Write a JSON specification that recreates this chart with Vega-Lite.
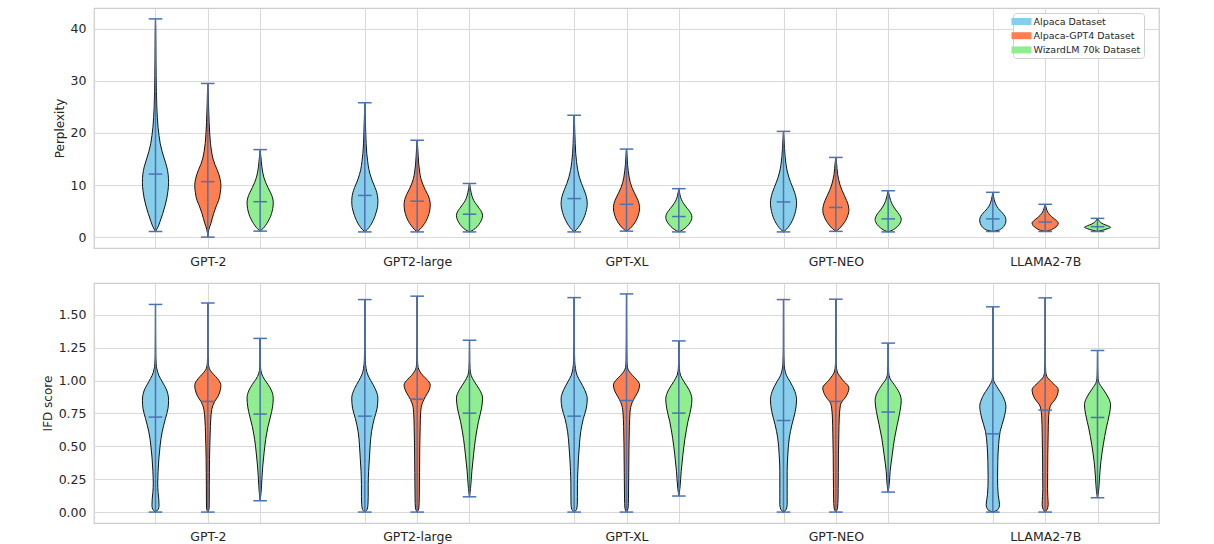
{
"$schema": "https://vega.github.io/schema/vega-lite/v6.json",
"background": "white",
"padding": {"left": 40, "top": 7, "right": 10, "bottom": 5},
"bounds": "flush",
"spacing": 35,
"config": {
  "font": "DejaVu Sans",
  "view": {"stroke": "#cccccc", "strokeWidth": 1.25},
  "axis": {"labelFont": "DejaVu Sans", "labelFontSize": 12.5, "labelColor": "#262626", "titleFont": "DejaVu Sans", "titleFontSize": 12, "titleFontWeight": "normal", "titleColor": "#262626", "gridColor": "#d9d9d9", "gridWidth": 1.1, "ticks": false, "tickSize": 0, "domain": false},
  "legend": {"labelFont": "DejaVu Sans", "labelColor": "#262626"}
},
"resolve": {"scale": {"color": "independent"}, "legend": {"color": "independent"}},
"datasets": {
"ppl": [
{"m":"GPT-2","ds":"A","v":1.08,"d":0},{"m":"GPT-2","ds":"A","v":2,"d":0.2},{"m":"GPT-2","ds":"A","v":3,"d":0.35},{"m":"GPT-2","ds":"A","v":4.5,"d":0.55},{"m":"GPT-2","ds":"A","v":6,"d":0.73},{"m":"GPT-2","ds":"A","v":7.5,"d":0.87},{"m":"GPT-2","ds":"A","v":9,"d":0.96},{"m":"GPT-2","ds":"A","v":10.5,"d":1.0},{"m":"GPT-2","ds":"A","v":12,"d":0.97},{"m":"GPT-2","ds":"A","v":13.5,"d":0.86},{"m":"GPT-2","ds":"A","v":15,"d":0.68},{"m":"GPT-2","ds":"A","v":16.5,"d":0.5},{"m":"GPT-2","ds":"A","v":18,"d":0.36},{"m":"GPT-2","ds":"A","v":19.5,"d":0.27},{"m":"GPT-2","ds":"A","v":21,"d":0.2},{"m":"GPT-2","ds":"A","v":23,"d":0.14},{"m":"GPT-2","ds":"A","v":25,"d":0.1},{"m":"GPT-2","ds":"A","v":28,"d":0.07},{"m":"GPT-2","ds":"A","v":31,"d":0.05},{"m":"GPT-2","ds":"A","v":34,"d":0.035},{"m":"GPT-2","ds":"A","v":37,"d":0.025},{"m":"GPT-2","ds":"A","v":40,"d":0.015},{"m":"GPT-2","ds":"A","v":41.9,"d":0},
{"m":"GPT-2","ds":"G","v":0,"d":0},{"m":"GPT-2","ds":"G","v":1.5,"d":0.08},{"m":"GPT-2","ds":"G","v":2.6,"d":0.23},{"m":"GPT-2","ds":"G","v":4.5,"d":0.44},{"m":"GPT-2","ds":"G","v":6,"d":0.65},{"m":"GPT-2","ds":"G","v":7,"d":0.82},{"m":"GPT-2","ds":"G","v":8.5,"d":0.95},{"m":"GPT-2","ds":"G","v":9.9,"d":1.0},{"m":"GPT-2","ds":"G","v":11,"d":0.95},{"m":"GPT-2","ds":"G","v":12,"d":0.85},{"m":"GPT-2","ds":"G","v":13,"d":0.7},{"m":"GPT-2","ds":"G","v":14,"d":0.53},{"m":"GPT-2","ds":"G","v":15,"d":0.4},{"m":"GPT-2","ds":"G","v":16.5,"d":0.28},{"m":"GPT-2","ds":"G","v":18,"d":0.2},{"m":"GPT-2","ds":"G","v":20,"d":0.14},{"m":"GPT-2","ds":"G","v":22,"d":0.1},{"m":"GPT-2","ds":"G","v":24,"d":0.07},{"m":"GPT-2","ds":"G","v":26,"d":0.045},{"m":"GPT-2","ds":"G","v":28,"d":0.025},{"m":"GPT-2","ds":"G","v":29.5,"d":0},
{"m":"GPT-2","ds":"W","v":1.15,"d":0},{"m":"GPT-2","ds":"W","v":1.6,"d":0.2},{"m":"GPT-2","ds":"W","v":2.2,"d":0.4},{"m":"GPT-2","ds":"W","v":3,"d":0.6},{"m":"GPT-2","ds":"W","v":4,"d":0.8},{"m":"GPT-2","ds":"W","v":5,"d":0.92},{"m":"GPT-2","ds":"W","v":6,"d":0.99},{"m":"GPT-2","ds":"W","v":6.7,"d":1.0},{"m":"GPT-2","ds":"W","v":7.5,"d":0.95},{"m":"GPT-2","ds":"W","v":8.5,"d":0.8},{"m":"GPT-2","ds":"W","v":9.5,"d":0.6},{"m":"GPT-2","ds":"W","v":10.5,"d":0.42},{"m":"GPT-2","ds":"W","v":11.5,"d":0.28},{"m":"GPT-2","ds":"W","v":12.5,"d":0.19},{"m":"GPT-2","ds":"W","v":13.5,"d":0.13},{"m":"GPT-2","ds":"W","v":14.5,"d":0.09},{"m":"GPT-2","ds":"W","v":15.5,"d":0.05},{"m":"GPT-2","ds":"W","v":16.8,"d":0},
{"m":"GPT2-large","ds":"A","v":1.0,"d":0},{"m":"GPT2-large","ds":"A","v":1.5,"d":0.2},{"m":"GPT2-large","ds":"A","v":2.2,"d":0.42},{"m":"GPT2-large","ds":"A","v":3.2,"d":0.64},{"m":"GPT2-large","ds":"A","v":4.2,"d":0.8},{"m":"GPT2-large","ds":"A","v":5.2,"d":0.92},{"m":"GPT2-large","ds":"A","v":6.2,"d":0.99},{"m":"GPT2-large","ds":"A","v":7.0,"d":1.0},{"m":"GPT2-large","ds":"A","v":8,"d":0.96},{"m":"GPT2-large","ds":"A","v":9,"d":0.86},{"m":"GPT2-large","ds":"A","v":10,"d":0.7},{"m":"GPT2-large","ds":"A","v":11,"d":0.54},{"m":"GPT2-large","ds":"A","v":12,"d":0.41},{"m":"GPT2-large","ds":"A","v":13,"d":0.31},{"m":"GPT2-large","ds":"A","v":14.5,"d":0.22},{"m":"GPT2-large","ds":"A","v":16,"d":0.15},{"m":"GPT2-large","ds":"A","v":18,"d":0.1},{"m":"GPT2-large","ds":"A","v":20,"d":0.07},{"m":"GPT2-large","ds":"A","v":22,"d":0.045},{"m":"GPT2-large","ds":"A","v":24,"d":0.025},{"m":"GPT2-large","ds":"A","v":25.8,"d":0},
{"m":"GPT2-large","ds":"G","v":1.0,"d":0},{"m":"GPT2-large","ds":"G","v":1.5,"d":0.22},{"m":"GPT2-large","ds":"G","v":2.2,"d":0.45},{"m":"GPT2-large","ds":"G","v":3,"d":0.66},{"m":"GPT2-large","ds":"G","v":4,"d":0.84},{"m":"GPT2-large","ds":"G","v":5,"d":0.95},{"m":"GPT2-large","ds":"G","v":6.2,"d":1.0},{"m":"GPT2-large","ds":"G","v":7.2,"d":0.95},{"m":"GPT2-large","ds":"G","v":8.2,"d":0.8},{"m":"GPT2-large","ds":"G","v":9.2,"d":0.6},{"m":"GPT2-large","ds":"G","v":10.2,"d":0.42},{"m":"GPT2-large","ds":"G","v":11.2,"d":0.29},{"m":"GPT2-large","ds":"G","v":12.5,"d":0.19},{"m":"GPT2-large","ds":"G","v":14,"d":0.12},{"m":"GPT2-large","ds":"G","v":15.5,"d":0.08},{"m":"GPT2-large","ds":"G","v":17,"d":0.045},{"m":"GPT2-large","ds":"G","v":18.6,"d":0},
{"m":"GPT2-large","ds":"W","v":1.0,"d":0},{"m":"GPT2-large","ds":"W","v":1.4,"d":0.3},{"m":"GPT2-large","ds":"W","v":2,"d":0.58},{"m":"GPT2-large","ds":"W","v":2.8,"d":0.82},{"m":"GPT2-large","ds":"W","v":3.5,"d":0.95},{"m":"GPT2-large","ds":"W","v":4.1,"d":1.0},{"m":"GPT2-large","ds":"W","v":4.8,"d":0.93},{"m":"GPT2-large","ds":"W","v":5.5,"d":0.75},{"m":"GPT2-large","ds":"W","v":6.3,"d":0.52},{"m":"GPT2-large","ds":"W","v":7,"d":0.33},{"m":"GPT2-large","ds":"W","v":7.8,"d":0.2},{"m":"GPT2-large","ds":"W","v":8.6,"d":0.12},{"m":"GPT2-large","ds":"W","v":9.4,"d":0.06},{"m":"GPT2-large","ds":"W","v":10.3,"d":0},
{"m":"GPT-XL","ds":"A","v":1.0,"d":0},{"m":"GPT-XL","ds":"A","v":1.5,"d":0.2},{"m":"GPT-XL","ds":"A","v":2.2,"d":0.42},{"m":"GPT-XL","ds":"A","v":3.2,"d":0.65},{"m":"GPT-XL","ds":"A","v":4.2,"d":0.82},{"m":"GPT-XL","ds":"A","v":5.3,"d":0.94},{"m":"GPT-XL","ds":"A","v":6.3,"d":1.0},{"m":"GPT-XL","ds":"A","v":7.3,"d":0.97},{"m":"GPT-XL","ds":"A","v":8.3,"d":0.87},{"m":"GPT-XL","ds":"A","v":9.3,"d":0.72},{"m":"GPT-XL","ds":"A","v":10.3,"d":0.56},{"m":"GPT-XL","ds":"A","v":11.5,"d":0.4},{"m":"GPT-XL","ds":"A","v":12.8,"d":0.28},{"m":"GPT-XL","ds":"A","v":14.5,"d":0.18},{"m":"GPT-XL","ds":"A","v":16,"d":0.12},{"m":"GPT-XL","ds":"A","v":18,"d":0.08},{"m":"GPT-XL","ds":"A","v":20,"d":0.05},{"m":"GPT-XL","ds":"A","v":22,"d":0.025},{"m":"GPT-XL","ds":"A","v":23.4,"d":0},
{"m":"GPT-XL","ds":"G","v":1.15,"d":0},{"m":"GPT-XL","ds":"G","v":1.6,"d":0.25},{"m":"GPT-XL","ds":"G","v":2.3,"d":0.5},{"m":"GPT-XL","ds":"G","v":3.2,"d":0.74},{"m":"GPT-XL","ds":"G","v":4.2,"d":0.9},{"m":"GPT-XL","ds":"G","v":5.2,"d":0.99},{"m":"GPT-XL","ds":"G","v":5.7,"d":1.0},{"m":"GPT-XL","ds":"G","v":6.5,"d":0.95},{"m":"GPT-XL","ds":"G","v":7.5,"d":0.8},{"m":"GPT-XL","ds":"G","v":8.5,"d":0.6},{"m":"GPT-XL","ds":"G","v":9.5,"d":0.42},{"m":"GPT-XL","ds":"G","v":10.5,"d":0.29},{"m":"GPT-XL","ds":"G","v":11.5,"d":0.2},{"m":"GPT-XL","ds":"G","v":12.8,"d":0.13},{"m":"GPT-XL","ds":"G","v":14,"d":0.08},{"m":"GPT-XL","ds":"G","v":15.5,"d":0.045},{"m":"GPT-XL","ds":"G","v":16.9,"d":0},
{"m":"GPT-XL","ds":"W","v":1.0,"d":0},{"m":"GPT-XL","ds":"W","v":1.4,"d":0.3},{"m":"GPT-XL","ds":"W","v":2,"d":0.6},{"m":"GPT-XL","ds":"W","v":2.7,"d":0.83},{"m":"GPT-XL","ds":"W","v":3.3,"d":0.96},{"m":"GPT-XL","ds":"W","v":3.8,"d":1.0},{"m":"GPT-XL","ds":"W","v":4.4,"d":0.95},{"m":"GPT-XL","ds":"W","v":5.1,"d":0.78},{"m":"GPT-XL","ds":"W","v":5.8,"d":0.55},{"m":"GPT-XL","ds":"W","v":6.5,"d":0.35},{"m":"GPT-XL","ds":"W","v":7.2,"d":0.2},{"m":"GPT-XL","ds":"W","v":8,"d":0.1},{"m":"GPT-XL","ds":"W","v":8.6,"d":0.05},{"m":"GPT-XL","ds":"W","v":9.3,"d":0},
{"m":"GPT-NEO","ds":"A","v":1.0,"d":0},{"m":"GPT-NEO","ds":"A","v":1.5,"d":0.22},{"m":"GPT-NEO","ds":"A","v":2.2,"d":0.45},{"m":"GPT-NEO","ds":"A","v":3.2,"d":0.68},{"m":"GPT-NEO","ds":"A","v":4.3,"d":0.85},{"m":"GPT-NEO","ds":"A","v":5.5,"d":0.96},{"m":"GPT-NEO","ds":"A","v":6.5,"d":1.0},{"m":"GPT-NEO","ds":"A","v":7.5,"d":0.96},{"m":"GPT-NEO","ds":"A","v":8.5,"d":0.86},{"m":"GPT-NEO","ds":"A","v":9.5,"d":0.71},{"m":"GPT-NEO","ds":"A","v":10.5,"d":0.55},{"m":"GPT-NEO","ds":"A","v":11.5,"d":0.41},{"m":"GPT-NEO","ds":"A","v":12.5,"d":0.3},{"m":"GPT-NEO","ds":"A","v":14,"d":0.19},{"m":"GPT-NEO","ds":"A","v":15.5,"d":0.12},{"m":"GPT-NEO","ds":"A","v":17,"d":0.08},{"m":"GPT-NEO","ds":"A","v":18.7,"d":0.04},{"m":"GPT-NEO","ds":"A","v":20.3,"d":0},
{"m":"GPT-NEO","ds":"G","v":1.1,"d":0},{"m":"GPT-NEO","ds":"G","v":1.6,"d":0.25},{"m":"GPT-NEO","ds":"G","v":2.3,"d":0.5},{"m":"GPT-NEO","ds":"G","v":3.2,"d":0.75},{"m":"GPT-NEO","ds":"G","v":4.2,"d":0.92},{"m":"GPT-NEO","ds":"G","v":5.1,"d":1.0},{"m":"GPT-NEO","ds":"G","v":6,"d":0.96},{"m":"GPT-NEO","ds":"G","v":7,"d":0.83},{"m":"GPT-NEO","ds":"G","v":8,"d":0.65},{"m":"GPT-NEO","ds":"G","v":9,"d":0.47},{"m":"GPT-NEO","ds":"G","v":10,"d":0.32},{"m":"GPT-NEO","ds":"G","v":11,"d":0.22},{"m":"GPT-NEO","ds":"G","v":12,"d":0.14},{"m":"GPT-NEO","ds":"G","v":13.2,"d":0.09},{"m":"GPT-NEO","ds":"G","v":14.3,"d":0.05},{"m":"GPT-NEO","ds":"G","v":15.3,"d":0},
{"m":"GPT-NEO","ds":"W","v":1.0,"d":0},{"m":"GPT-NEO","ds":"W","v":1.3,"d":0.3},{"m":"GPT-NEO","ds":"W","v":1.8,"d":0.6},{"m":"GPT-NEO","ds":"W","v":2.4,"d":0.84},{"m":"GPT-NEO","ds":"W","v":3,"d":0.97},{"m":"GPT-NEO","ds":"W","v":3.4,"d":1.0},{"m":"GPT-NEO","ds":"W","v":4,"d":0.93},{"m":"GPT-NEO","ds":"W","v":4.7,"d":0.75},{"m":"GPT-NEO","ds":"W","v":5.4,"d":0.53},{"m":"GPT-NEO","ds":"W","v":6.2,"d":0.33},{"m":"GPT-NEO","ds":"W","v":7,"d":0.19},{"m":"GPT-NEO","ds":"W","v":7.8,"d":0.1},{"m":"GPT-NEO","ds":"W","v":8.9,"d":0},
{"m":"LLAMA2-7B","ds":"A","v":1.08,"d":0},{"m":"LLAMA2-7B","ds":"A","v":1.3,"d":0.4},{"m":"LLAMA2-7B","ds":"A","v":1.7,"d":0.7},{"m":"LLAMA2-7B","ds":"A","v":2.3,"d":0.9},{"m":"LLAMA2-7B","ds":"A","v":2.9,"d":0.99},{"m":"LLAMA2-7B","ds":"A","v":3.4,"d":1.0},{"m":"LLAMA2-7B","ds":"A","v":4,"d":0.92},{"m":"LLAMA2-7B","ds":"A","v":4.6,"d":0.75},{"m":"LLAMA2-7B","ds":"A","v":5.2,"d":0.52},{"m":"LLAMA2-7B","ds":"A","v":5.8,"d":0.33},{"m":"LLAMA2-7B","ds":"A","v":6.5,"d":0.19},{"m":"LLAMA2-7B","ds":"A","v":7.2,"d":0.1},{"m":"LLAMA2-7B","ds":"A","v":7.9,"d":0.05},{"m":"LLAMA2-7B","ds":"A","v":8.6,"d":0},
{"m":"LLAMA2-7B","ds":"G","v":1.08,"d":0},{"m":"LLAMA2-7B","ds":"G","v":1.3,"d":0.35},{"m":"LLAMA2-7B","ds":"G","v":1.7,"d":0.68},{"m":"LLAMA2-7B","ds":"G","v":2.2,"d":0.92},{"m":"LLAMA2-7B","ds":"G","v":2.7,"d":1.0},{"m":"LLAMA2-7B","ds":"G","v":3.2,"d":0.85},{"m":"LLAMA2-7B","ds":"G","v":3.7,"d":0.6},{"m":"LLAMA2-7B","ds":"G","v":4.2,"d":0.38},{"m":"LLAMA2-7B","ds":"G","v":4.8,"d":0.2},{"m":"LLAMA2-7B","ds":"G","v":5.4,"d":0.1},{"m":"LLAMA2-7B","ds":"G","v":5.9,"d":0.05},{"m":"LLAMA2-7B","ds":"G","v":6.3,"d":0},
{"m":"LLAMA2-7B","ds":"W","v":1.08,"d":0},{"m":"LLAMA2-7B","ds":"W","v":1.3,"d":0.35},{"m":"LLAMA2-7B","ds":"W","v":1.6,"d":0.75},{"m":"LLAMA2-7B","ds":"W","v":1.9,"d":1.0},{"m":"LLAMA2-7B","ds":"W","v":2.2,"d":0.75},{"m":"LLAMA2-7B","ds":"W","v":2.5,"d":0.45},{"m":"LLAMA2-7B","ds":"W","v":2.8,"d":0.25},{"m":"LLAMA2-7B","ds":"W","v":3.2,"d":0.1},{"m":"LLAMA2-7B","ds":"W","v":3.6,"d":0}
],
"ppls": [
{"m":"GPT-2","ds":"A","min":1.08,"mean":12.1,"max":41.9},{"m":"GPT-2","ds":"G","min":0.0,"mean":10.65,"max":29.5},{"m":"GPT-2","ds":"W","min":1.15,"mean":6.8,"max":16.8},
{"m":"GPT2-large","ds":"A","min":1.0,"mean":8.0,"max":25.8},{"m":"GPT2-large","ds":"G","min":1.0,"mean":6.9,"max":18.6},{"m":"GPT2-large","ds":"W","min":1.0,"mean":4.4,"max":10.3},
{"m":"GPT-XL","ds":"A","min":1.0,"mean":7.4,"max":23.4},{"m":"GPT-XL","ds":"G","min":1.15,"mean":6.3,"max":16.9},{"m":"GPT-XL","ds":"W","min":1.0,"mean":3.95,"max":9.3},
{"m":"GPT-NEO","ds":"A","min":1.0,"mean":6.75,"max":20.3},{"m":"GPT-NEO","ds":"G","min":1.1,"mean":5.7,"max":15.3},{"m":"GPT-NEO","ds":"W","min":1.0,"mean":3.5,"max":8.9},
{"m":"LLAMA2-7B","ds":"A","min":1.08,"mean":3.5,"max":8.6},{"m":"LLAMA2-7B","ds":"G","min":1.08,"mean":2.9,"max":6.3},{"m":"LLAMA2-7B","ds":"W","min":1.08,"mean":2.0,"max":3.6}
],
"ifd": [
{"m":"GPT-2","ds":"A","v":0,"d":0},{"m":"GPT-2","ds":"A","v":0.02,"d":0.2},{"m":"GPT-2","ds":"A","v":0.05,"d":0.27},{"m":"GPT-2","ds":"A","v":0.1,"d":0.25},{"m":"GPT-2","ds":"A","v":0.15,"d":0.2},{"m":"GPT-2","ds":"A","v":0.22,"d":0.17},{"m":"GPT-2","ds":"A","v":0.31,"d":0.2},{"m":"GPT-2","ds":"A","v":0.41,"d":0.26},{"m":"GPT-2","ds":"A","v":0.51,"d":0.36},{"m":"GPT-2","ds":"A","v":0.61,"d":0.51},{"m":"GPT-2","ds":"A","v":0.71,"d":0.76},{"m":"GPT-2","ds":"A","v":0.79,"d":0.96},{"m":"GPT-2","ds":"A","v":0.85,"d":1.0},{"m":"GPT-2","ds":"A","v":0.92,"d":0.88},{"m":"GPT-2","ds":"A","v":0.99,"d":0.52},{"m":"GPT-2","ds":"A","v":1.04,"d":0.25},{"m":"GPT-2","ds":"A","v":1.08,"d":0.12},{"m":"GPT-2","ds":"A","v":1.13,"d":0.05},{"m":"GPT-2","ds":"A","v":1.2,"d":0.02},{"m":"GPT-2","ds":"A","v":1.35,"d":0.008},{"m":"GPT-2","ds":"A","v":1.578,"d":0},
{"m":"GPT-2","ds":"G","v":0,"d":0},{"m":"GPT-2","ds":"G","v":0.03,"d":0.1},{"m":"GPT-2","ds":"G","v":0.1,"d":0.11},{"m":"GPT-2","ds":"G","v":0.2,"d":0.11},{"m":"GPT-2","ds":"G","v":0.3,"d":0.12},{"m":"GPT-2","ds":"G","v":0.4,"d":0.13},{"m":"GPT-2","ds":"G","v":0.5,"d":0.15},{"m":"GPT-2","ds":"G","v":0.6,"d":0.18},{"m":"GPT-2","ds":"G","v":0.7,"d":0.22},{"m":"GPT-2","ds":"G","v":0.78,"d":0.3},{"m":"GPT-2","ds":"G","v":0.84,"d":0.52},{"m":"GPT-2","ds":"G","v":0.88,"d":0.78},{"m":"GPT-2","ds":"G","v":0.93,"d":0.96},{"m":"GPT-2","ds":"G","v":0.96,"d":1.0},{"m":"GPT-2","ds":"G","v":1.0,"d":0.85},{"m":"GPT-2","ds":"G","v":1.03,"d":0.6},{"m":"GPT-2","ds":"G","v":1.06,"d":0.32},{"m":"GPT-2","ds":"G","v":1.09,"d":0.12},{"m":"GPT-2","ds":"G","v":1.13,"d":0.04},{"m":"GPT-2","ds":"G","v":1.25,"d":0.01},{"m":"GPT-2","ds":"G","v":1.589,"d":0},
{"m":"GPT-2","ds":"W","v":0.086,"d":0},{"m":"GPT-2","ds":"W","v":0.15,"d":0.07},{"m":"GPT-2","ds":"W","v":0.25,"d":0.13},{"m":"GPT-2","ds":"W","v":0.35,"d":0.2},{"m":"GPT-2","ds":"W","v":0.45,"d":0.3},{"m":"GPT-2","ds":"W","v":0.55,"d":0.42},{"m":"GPT-2","ds":"W","v":0.65,"d":0.6},{"m":"GPT-2","ds":"W","v":0.73,"d":0.8},{"m":"GPT-2","ds":"W","v":0.8,"d":0.95},{"m":"GPT-2","ds":"W","v":0.866,"d":1.0},{"m":"GPT-2","ds":"W","v":0.92,"d":0.88},{"m":"GPT-2","ds":"W","v":0.97,"d":0.6},{"m":"GPT-2","ds":"W","v":1.01,"d":0.32},{"m":"GPT-2","ds":"W","v":1.05,"d":0.12},{"m":"GPT-2","ds":"W","v":1.1,"d":0.03},{"m":"GPT-2","ds":"W","v":1.2,"d":0.01},{"m":"GPT-2","ds":"W","v":1.32,"d":0},
{"m":"GPT2-large","ds":"A","v":0,"d":0},{"m":"GPT2-large","ds":"A","v":0.02,"d":0.18},{"m":"GPT2-large","ds":"A","v":0.06,"d":0.24},{"m":"GPT2-large","ds":"A","v":0.12,"d":0.26},{"m":"GPT2-large","ds":"A","v":0.21,"d":0.26},{"m":"GPT2-large","ds":"A","v":0.31,"d":0.29},{"m":"GPT2-large","ds":"A","v":0.41,"d":0.35},{"m":"GPT2-large","ds":"A","v":0.51,"d":0.41},{"m":"GPT2-large","ds":"A","v":0.61,"d":0.51},{"m":"GPT2-large","ds":"A","v":0.71,"d":0.72},{"m":"GPT2-large","ds":"A","v":0.79,"d":0.94},{"m":"GPT2-large","ds":"A","v":0.866,"d":1.0},{"m":"GPT2-large","ds":"A","v":0.94,"d":0.78},{"m":"GPT2-large","ds":"A","v":1.0,"d":0.45},{"m":"GPT2-large","ds":"A","v":1.05,"d":0.2},{"m":"GPT2-large","ds":"A","v":1.09,"d":0.1},{"m":"GPT2-large","ds":"A","v":1.15,"d":0.04},{"m":"GPT2-large","ds":"A","v":1.3,"d":0.01},{"m":"GPT2-large","ds":"A","v":1.615,"d":0},
{"m":"GPT2-large","ds":"G","v":0,"d":0},{"m":"GPT2-large","ds":"G","v":0.03,"d":0.13},{"m":"GPT2-large","ds":"G","v":0.1,"d":0.16},{"m":"GPT2-large","ds":"G","v":0.3,"d":0.18},{"m":"GPT2-large","ds":"G","v":0.5,"d":0.2},{"m":"GPT2-large","ds":"G","v":0.65,"d":0.23},{"m":"GPT2-large","ds":"G","v":0.76,"d":0.27},{"m":"GPT2-large","ds":"G","v":0.83,"d":0.4},{"m":"GPT2-large","ds":"G","v":0.88,"d":0.65},{"m":"GPT2-large","ds":"G","v":0.92,"d":0.88},{"m":"GPT2-large","ds":"G","v":0.967,"d":1.0},{"m":"GPT2-large","ds":"G","v":1.01,"d":0.72},{"m":"GPT2-large","ds":"G","v":1.04,"d":0.42},{"m":"GPT2-large","ds":"G","v":1.07,"d":0.2},{"m":"GPT2-large","ds":"G","v":1.1,"d":0.07},{"m":"GPT2-large","ds":"G","v":1.15,"d":0.03},{"m":"GPT2-large","ds":"G","v":1.3,"d":0.01},{"m":"GPT2-large","ds":"G","v":1.641,"d":0},
{"m":"GPT2-large","ds":"W","v":0.116,"d":0},{"m":"GPT2-large","ds":"W","v":0.18,"d":0.08},{"m":"GPT2-large","ds":"W","v":0.31,"d":0.18},{"m":"GPT2-large","ds":"W","v":0.435,"d":0.31},{"m":"GPT2-large","ds":"W","v":0.56,"d":0.46},{"m":"GPT2-large","ds":"W","v":0.69,"d":0.69},{"m":"GPT2-large","ds":"W","v":0.79,"d":0.92},{"m":"GPT2-large","ds":"W","v":0.866,"d":1.0},{"m":"GPT2-large","ds":"W","v":0.93,"d":0.77},{"m":"GPT2-large","ds":"W","v":0.99,"d":0.38},{"m":"GPT2-large","ds":"W","v":1.04,"d":0.12},{"m":"GPT2-large","ds":"W","v":1.09,"d":0.04},{"m":"GPT2-large","ds":"W","v":1.15,"d":0.015},{"m":"GPT2-large","ds":"W","v":1.306,"d":0},
{"m":"GPT-XL","ds":"A","v":0,"d":0},{"m":"GPT-XL","ds":"A","v":0.02,"d":0.18},{"m":"GPT-XL","ds":"A","v":0.06,"d":0.24},{"m":"GPT-XL","ds":"A","v":0.12,"d":0.25},{"m":"GPT-XL","ds":"A","v":0.21,"d":0.25},{"m":"GPT-XL","ds":"A","v":0.31,"d":0.28},{"m":"GPT-XL","ds":"A","v":0.41,"d":0.33},{"m":"GPT-XL","ds":"A","v":0.51,"d":0.4},{"m":"GPT-XL","ds":"A","v":0.61,"d":0.5},{"m":"GPT-XL","ds":"A","v":0.71,"d":0.7},{"m":"GPT-XL","ds":"A","v":0.79,"d":0.93},{"m":"GPT-XL","ds":"A","v":0.86,"d":1.0},{"m":"GPT-XL","ds":"A","v":0.93,"d":0.8},{"m":"GPT-XL","ds":"A","v":0.99,"d":0.48},{"m":"GPT-XL","ds":"A","v":1.04,"d":0.22},{"m":"GPT-XL","ds":"A","v":1.09,"d":0.1},{"m":"GPT-XL","ds":"A","v":1.15,"d":0.04},{"m":"GPT-XL","ds":"A","v":1.3,"d":0.01},{"m":"GPT-XL","ds":"A","v":1.63,"d":0},
{"m":"GPT-XL","ds":"G","v":0,"d":0},{"m":"GPT-XL","ds":"G","v":0.03,"d":0.12},{"m":"GPT-XL","ds":"G","v":0.1,"d":0.15},{"m":"GPT-XL","ds":"G","v":0.3,"d":0.17},{"m":"GPT-XL","ds":"G","v":0.5,"d":0.19},{"m":"GPT-XL","ds":"G","v":0.65,"d":0.22},{"m":"GPT-XL","ds":"G","v":0.76,"d":0.27},{"m":"GPT-XL","ds":"G","v":0.83,"d":0.42},{"m":"GPT-XL","ds":"G","v":0.88,"d":0.68},{"m":"GPT-XL","ds":"G","v":0.92,"d":0.9},{"m":"GPT-XL","ds":"G","v":0.967,"d":1.0},{"m":"GPT-XL","ds":"G","v":1.01,"d":0.74},{"m":"GPT-XL","ds":"G","v":1.04,"d":0.44},{"m":"GPT-XL","ds":"G","v":1.07,"d":0.2},{"m":"GPT-XL","ds":"G","v":1.1,"d":0.07},{"m":"GPT-XL","ds":"G","v":1.15,"d":0.03},{"m":"GPT-XL","ds":"G","v":1.3,"d":0.01},{"m":"GPT-XL","ds":"G","v":1.658,"d":0},
{"m":"GPT-XL","ds":"W","v":0.122,"d":0},{"m":"GPT-XL","ds":"W","v":0.18,"d":0.08},{"m":"GPT-XL","ds":"W","v":0.31,"d":0.18},{"m":"GPT-XL","ds":"W","v":0.435,"d":0.31},{"m":"GPT-XL","ds":"W","v":0.56,"d":0.47},{"m":"GPT-XL","ds":"W","v":0.69,"d":0.7},{"m":"GPT-XL","ds":"W","v":0.79,"d":0.93},{"m":"GPT-XL","ds":"W","v":0.858,"d":1.0},{"m":"GPT-XL","ds":"W","v":0.93,"d":0.78},{"m":"GPT-XL","ds":"W","v":0.99,"d":0.4},{"m":"GPT-XL","ds":"W","v":1.04,"d":0.13},{"m":"GPT-XL","ds":"W","v":1.09,"d":0.04},{"m":"GPT-XL","ds":"W","v":1.15,"d":0.015},{"m":"GPT-XL","ds":"W","v":1.301,"d":0},
{"m":"GPT-NEO","ds":"A","v":0,"d":0},{"m":"GPT-NEO","ds":"A","v":0.02,"d":0.2},{"m":"GPT-NEO","ds":"A","v":0.056,"d":0.28},{"m":"GPT-NEO","ds":"A","v":0.12,"d":0.28},{"m":"GPT-NEO","ds":"A","v":0.18,"d":0.28},{"m":"GPT-NEO","ds":"A","v":0.31,"d":0.28},{"m":"GPT-NEO","ds":"A","v":0.435,"d":0.33},{"m":"GPT-NEO","ds":"A","v":0.562,"d":0.44},{"m":"GPT-NEO","ds":"A","v":0.663,"d":0.64},{"m":"GPT-NEO","ds":"A","v":0.765,"d":0.9},{"m":"GPT-NEO","ds":"A","v":0.853,"d":1.0},{"m":"GPT-NEO","ds":"A","v":0.916,"d":0.87},{"m":"GPT-NEO","ds":"A","v":0.99,"d":0.51},{"m":"GPT-NEO","ds":"A","v":1.04,"d":0.22},{"m":"GPT-NEO","ds":"A","v":1.07,"d":0.13},{"m":"GPT-NEO","ds":"A","v":1.12,"d":0.05},{"m":"GPT-NEO","ds":"A","v":1.25,"d":0.01},{"m":"GPT-NEO","ds":"A","v":1.615,"d":0},
{"m":"GPT-NEO","ds":"G","v":0,"d":0},{"m":"GPT-NEO","ds":"G","v":0.03,"d":0.13},{"m":"GPT-NEO","ds":"G","v":0.1,"d":0.17},{"m":"GPT-NEO","ds":"G","v":0.18,"d":0.18},{"m":"GPT-NEO","ds":"G","v":0.3,"d":0.19},{"m":"GPT-NEO","ds":"G","v":0.435,"d":0.2},{"m":"GPT-NEO","ds":"G","v":0.6,"d":0.23},{"m":"GPT-NEO","ds":"G","v":0.714,"d":0.26},{"m":"GPT-NEO","ds":"G","v":0.79,"d":0.32},{"m":"GPT-NEO","ds":"G","v":0.828,"d":0.4},{"m":"GPT-NEO","ds":"G","v":0.878,"d":0.77},{"m":"GPT-NEO","ds":"G","v":0.942,"d":1.0},{"m":"GPT-NEO","ds":"G","v":1.005,"d":0.51},{"m":"GPT-NEO","ds":"G","v":1.04,"d":0.25},{"m":"GPT-NEO","ds":"G","v":1.056,"d":0.15},{"m":"GPT-NEO","ds":"G","v":1.09,"d":0.06},{"m":"GPT-NEO","ds":"G","v":1.15,"d":0.02},{"m":"GPT-NEO","ds":"G","v":1.3,"d":0.01},{"m":"GPT-NEO","ds":"G","v":1.618,"d":0},
{"m":"GPT-NEO","ds":"W","v":0.152,"d":0},{"m":"GPT-NEO","ds":"W","v":0.21,"d":0.08},{"m":"GPT-NEO","ds":"W","v":0.31,"d":0.15},{"m":"GPT-NEO","ds":"W","v":0.435,"d":0.31},{"m":"GPT-NEO","ds":"W","v":0.562,"d":0.49},{"m":"GPT-NEO","ds":"W","v":0.663,"d":0.69},{"m":"GPT-NEO","ds":"W","v":0.765,"d":0.9},{"m":"GPT-NEO","ds":"W","v":0.846,"d":1.0},{"m":"GPT-NEO","ds":"W","v":0.89,"d":0.92},{"m":"GPT-NEO","ds":"W","v":0.955,"d":0.56},{"m":"GPT-NEO","ds":"W","v":1.018,"d":0.13},{"m":"GPT-NEO","ds":"W","v":1.06,"d":0.04},{"m":"GPT-NEO","ds":"W","v":1.12,"d":0.015},{"m":"GPT-NEO","ds":"W","v":1.284,"d":0},
{"m":"LLAMA2-7B","ds":"A","v":0,"d":0},{"m":"LLAMA2-7B","ds":"A","v":0.018,"d":0.38},{"m":"LLAMA2-7B","ds":"A","v":0.056,"d":0.51},{"m":"LLAMA2-7B","ds":"A","v":0.132,"d":0.41},{"m":"LLAMA2-7B","ds":"A","v":0.258,"d":0.36},{"m":"LLAMA2-7B","ds":"A","v":0.385,"d":0.38},{"m":"LLAMA2-7B","ds":"A","v":0.511,"d":0.44},{"m":"LLAMA2-7B","ds":"A","v":0.613,"d":0.56},{"m":"LLAMA2-7B","ds":"A","v":0.714,"d":0.85},{"m":"LLAMA2-7B","ds":"A","v":0.803,"d":1.0},{"m":"LLAMA2-7B","ds":"A","v":0.879,"d":0.77},{"m":"LLAMA2-7B","ds":"A","v":0.955,"d":0.3},{"m":"LLAMA2-7B","ds":"A","v":1.005,"d":0.05},{"m":"LLAMA2-7B","ds":"A","v":1.05,"d":0.02},{"m":"LLAMA2-7B","ds":"A","v":1.2,"d":0.01},{"m":"LLAMA2-7B","ds":"A","v":1.56,"d":0},
{"m":"LLAMA2-7B","ds":"G","v":0,"d":0},{"m":"LLAMA2-7B","ds":"G","v":0.02,"d":0.15},{"m":"LLAMA2-7B","ds":"G","v":0.056,"d":0.23},{"m":"LLAMA2-7B","ds":"G","v":0.12,"d":0.2},{"m":"LLAMA2-7B","ds":"G","v":0.18,"d":0.18},{"m":"LLAMA2-7B","ds":"G","v":0.3,"d":0.19},{"m":"LLAMA2-7B","ds":"G","v":0.435,"d":0.2},{"m":"LLAMA2-7B","ds":"G","v":0.6,"d":0.23},{"m":"LLAMA2-7B","ds":"G","v":0.714,"d":0.26},{"m":"LLAMA2-7B","ds":"G","v":0.803,"d":0.38},{"m":"LLAMA2-7B","ds":"G","v":0.866,"d":0.82},{"m":"LLAMA2-7B","ds":"G","v":0.929,"d":1.0},{"m":"LLAMA2-7B","ds":"G","v":0.992,"d":0.46},{"m":"LLAMA2-7B","ds":"G","v":1.03,"d":0.13},{"m":"LLAMA2-7B","ds":"G","v":1.07,"d":0.04},{"m":"LLAMA2-7B","ds":"G","v":1.15,"d":0.015},{"m":"LLAMA2-7B","ds":"G","v":1.3,"d":0.005},{"m":"LLAMA2-7B","ds":"G","v":1.628,"d":0},
{"m":"LLAMA2-7B","ds":"W","v":0.109,"d":0},{"m":"LLAMA2-7B","ds":"W","v":0.157,"d":0.08},{"m":"LLAMA2-7B","ds":"W","v":0.258,"d":0.15},{"m":"LLAMA2-7B","ds":"W","v":0.385,"d":0.26},{"m":"LLAMA2-7B","ds":"W","v":0.511,"d":0.44},{"m":"LLAMA2-7B","ds":"W","v":0.638,"d":0.67},{"m":"LLAMA2-7B","ds":"W","v":0.74,"d":0.9},{"m":"LLAMA2-7B","ds":"W","v":0.815,"d":1.0},{"m":"LLAMA2-7B","ds":"W","v":0.866,"d":0.85},{"m":"LLAMA2-7B","ds":"W","v":0.929,"d":0.46},{"m":"LLAMA2-7B","ds":"W","v":0.992,"d":0.08},{"m":"LLAMA2-7B","ds":"W","v":1.04,"d":0.025},{"m":"LLAMA2-7B","ds":"W","v":1.1,"d":0.01},{"m":"LLAMA2-7B","ds":"W","v":1.228,"d":0}
],
"ifds": [
{"m":"GPT-2","ds":"A","min":0,"mean":0.722,"max":1.578},{"m":"GPT-2","ds":"G","min":0,"mean":0.841,"max":1.589},{"m":"GPT-2","ds":"W","min":0.086,"mean":0.745,"max":1.32},
{"m":"GPT2-large","ds":"A","min":0,"mean":0.729,"max":1.615},{"m":"GPT2-large","ds":"G","min":0,"mean":0.858,"max":1.641},{"m":"GPT2-large","ds":"W","min":0.116,"mean":0.752,"max":1.306},
{"m":"GPT-XL","ds":"A","min":0,"mean":0.729,"max":1.63},{"m":"GPT-XL","ds":"G","min":0,"mean":0.848,"max":1.658},{"m":"GPT-XL","ds":"W","min":0.122,"mean":0.752,"max":1.301},
{"m":"GPT-NEO","ds":"A","min":0,"mean":0.696,"max":1.615},{"m":"GPT-NEO","ds":"G","min":0,"mean":0.841,"max":1.618},{"m":"GPT-NEO","ds":"W","min":0.152,"mean":0.76,"max":1.284},
{"m":"LLAMA2-7B","ds":"A","min":0,"mean":0.595,"max":1.56},{"m":"LLAMA2-7B","ds":"G","min":0,"mean":0.775,"max":1.628},{"m":"LLAMA2-7B","ds":"W","min":0.109,"mean":0.719,"max":1.228}
]
},
"vconcat": [
{
"width": 1065, "height": 240,
"layer": [
{
"data": {"name": "ppl"},
"transform": [
{"calculate": "indexof(['GPT-2','GPT2-large','GPT-XL','GPT-NEO','LLAMA2-7B'], datum.m) * 4 + indexof(['A','G','W'], datum.ds)", "as": "c"},
{"calculate": "datum.c - 0.25 * datum.d", "as": "xl"},
{"calculate": "datum.c + 0.25 * datum.d", "as": "xr"}
],
"mark": {"type": "area", "orient": "horizontal", "interpolate": "monotone", "stroke": "#111111", "strokeWidth": 1, "opacity": 1, "fillOpacity": 1},
"encoding": {
"y": {"field": "v", "type": "quantitative", "scale": {"domain": [-2.09, 43.99], "nice": false, "zero": false}, "axis": {"title": "Perplexity", "values": [0, 10, 20, 30, 40], "grid": true, "labelPadding": 8, "titlePadding": 4}},
"x": {"field": "xl", "type": "quantitative", "scale": {"domain": [-1.175, 19.175], "nice": false, "zero": false}, "axis": {"title": null, "values": [0,1,2,4,5,6,8,9,10,12,13,14,16,17,18], "labelExpr": "datum.value % 4 == 1 ? ['GPT-2','GPT2-large','GPT-XL','GPT-NEO','LLAMA2-7B'][floor(datum.value / 4)] : ''", "grid": true, "labelPadding": 7.5, "labelOverlap": false, "labelFlush": false}},
"x2": {"field": "xr"},
"color": {"field": "ds", "type": "nominal", "scale": {"domain": ["A", "G", "W"], "range": ["#87ceeb", "#ff7f50", "#90ee90"]}, "legend": {"orient": "none", "legendX": 919, "legendY": 5, "title": null, "direction": "vertical", "fillColor": "#ffffff", "strokeColor": "#d0d0d0", "cornerRadius": 3, "padding": 3.5, "symbolType": "M-2,-0.7L2,-0.7L2,0.7L-2,0.7Z", "symbolSize": 100, "symbolStrokeWidth": 0, "symbolOpacity": 1, "labelFontSize": 9.5, "labelOffset": 7, "rowPadding": 4.2, "labelExpr": "datum.label == 'A' ? 'Alpaca Dataset' : datum.label == 'G' ? 'Alpaca-GPT4 Dataset' : 'WizardLM 70k Dataset'"}},
"detail": {"field": "m"}
}
},
{
"data": {"name": "ppls"},
"transform": [
{"calculate": "indexof(['GPT-2','GPT2-large','GPT-XL','GPT-NEO','LLAMA2-7B'], datum.m) * 4 + indexof(['A','G','W'], datum.ds)", "as": "c"}
],
"mark": {"type": "rule", "color": "#4c72b0", "strokeWidth": 1.5},
"encoding": {
"x": {"field": "c", "type": "quantitative", "scale": {"domain": [-1.175, 19.175], "nice": false, "zero": false}, "axis": {"title": null, "values": [0,1,2,4,5,6,8,9,10,12,13,14,16,17,18], "labelExpr": "datum.value % 4 == 1 ? ['GPT-2','GPT2-large','GPT-XL','GPT-NEO','LLAMA2-7B'][floor(datum.value / 4)] : ''", "grid": true, "labelPadding": 7.5, "labelOverlap": false, "labelFlush": false}},
"y": {"field": "min", "type": "quantitative", "scale": {"domain": [-2.09, 43.99], "nice": false, "zero": false}, "axis": {"title": "Perplexity", "values": [0, 10, 20, 30, 40], "grid": true, "labelPadding": 8, "titlePadding": 4}},
"y2": {"field": "max"}
}
},
{
"data": {"name": "ppls"},
"transform": [
{"fold": ["min", "mean", "max"], "as": ["k", "val"]},
{"calculate": "indexof(['GPT-2','GPT2-large','GPT-XL','GPT-NEO','LLAMA2-7B'], datum.m) * 4 + indexof(['A','G','W'], datum.ds)", "as": "c"},
{"calculate": "datum.c - 0.13", "as": "a"},
{"calculate": "datum.c + 0.13", "as": "b"}
],
"mark": {"type": "rule", "color": "#4c72b0", "strokeWidth": 1.5},
"encoding": {
"x": {"field": "a", "type": "quantitative", "scale": {"domain": [-1.175, 19.175], "nice": false, "zero": false}, "axis": {"title": null, "values": [0,1,2,4,5,6,8,9,10,12,13,14,16,17,18], "labelExpr": "datum.value % 4 == 1 ? ['GPT-2','GPT2-large','GPT-XL','GPT-NEO','LLAMA2-7B'][floor(datum.value / 4)] : ''", "grid": true, "labelPadding": 7.5, "labelOverlap": false, "labelFlush": false}},
"x2": {"field": "b"},
"y": {"field": "val", "type": "quantitative", "scale": {"domain": [-2.09, 43.99], "nice": false, "zero": false}, "axis": {"title": "Perplexity", "values": [0, 10, 20, 30, 40], "grid": true, "labelPadding": 8, "titlePadding": 4}}
}
}
]
},
{
"width": 1065, "height": 240,
"layer": [
{
"data": {"name": "ifd"},
"transform": [
{"calculate": "indexof(['GPT-2','GPT2-large','GPT-XL','GPT-NEO','LLAMA2-7B'], datum.m) * 4 + indexof(['A','G','W'], datum.ds)", "as": "c"},
{"calculate": "datum.c - 0.25 * datum.d", "as": "xl"},
{"calculate": "datum.c + 0.25 * datum.d", "as": "xr"}
],
"mark": {"type": "area", "orient": "horizontal", "interpolate": "monotone", "stroke": "#111111", "strokeWidth": 1, "opacity": 1, "fillOpacity": 1},
"encoding": {
"y": {"field": "v", "type": "quantitative", "scale": {"domain": [-0.083, 1.741], "nice": false, "zero": false}, "axis": {"title": "IFD score", "values": [0, 0.25, 0.5, 0.75, 1, 1.25, 1.5], "format": ".2f", "grid": true, "labelPadding": 8, "titlePadding": 4}},
"x": {"field": "xl", "type": "quantitative", "scale": {"domain": [-1.175, 19.175], "nice": false, "zero": false}, "axis": {"title": null, "values": [0,1,2,4,5,6,8,9,10,12,13,14,16,17,18], "labelExpr": "datum.value % 4 == 1 ? ['GPT-2','GPT2-large','GPT-XL','GPT-NEO','LLAMA2-7B'][floor(datum.value / 4)] : ''", "grid": true, "labelPadding": 7.5, "labelOverlap": false, "labelFlush": false}},
"x2": {"field": "xr"},
"color": {"field": "ds", "type": "nominal", "scale": {"domain": ["A", "G", "W"], "range": ["#87ceeb", "#ff7f50", "#90ee90"]}, "legend": null},
"detail": {"field": "m"}
}
},
{
"data": {"name": "ifds"},
"transform": [
{"calculate": "indexof(['GPT-2','GPT2-large','GPT-XL','GPT-NEO','LLAMA2-7B'], datum.m) * 4 + indexof(['A','G','W'], datum.ds)", "as": "c"}
],
"mark": {"type": "rule", "color": "#4c72b0", "strokeWidth": 1.5},
"encoding": {
"x": {"field": "c", "type": "quantitative", "scale": {"domain": [-1.175, 19.175], "nice": false, "zero": false}, "axis": {"title": null, "values": [0,1,2,4,5,6,8,9,10,12,13,14,16,17,18], "labelExpr": "datum.value % 4 == 1 ? ['GPT-2','GPT2-large','GPT-XL','GPT-NEO','LLAMA2-7B'][floor(datum.value / 4)] : ''", "grid": true, "labelPadding": 7.5, "labelOverlap": false, "labelFlush": false}},
"y": {"field": "min", "type": "quantitative", "scale": {"domain": [-0.083, 1.741], "nice": false, "zero": false}, "axis": {"title": "IFD score", "values": [0, 0.25, 0.5, 0.75, 1, 1.25, 1.5], "format": ".2f", "grid": true, "labelPadding": 8, "titlePadding": 4}},
"y2": {"field": "max"}
}
},
{
"data": {"name": "ifds"},
"transform": [
{"fold": ["min", "mean", "max"], "as": ["k", "val"]},
{"calculate": "indexof(['GPT-2','GPT2-large','GPT-XL','GPT-NEO','LLAMA2-7B'], datum.m) * 4 + indexof(['A','G','W'], datum.ds)", "as": "c"},
{"calculate": "datum.c - 0.13", "as": "a"},
{"calculate": "datum.c + 0.13", "as": "b"}
],
"mark": {"type": "rule", "color": "#4c72b0", "strokeWidth": 1.5},
"encoding": {
"x": {"field": "a", "type": "quantitative", "scale": {"domain": [-1.175, 19.175], "nice": false, "zero": false}, "axis": {"title": null, "values": [0,1,2,4,5,6,8,9,10,12,13,14,16,17,18], "labelExpr": "datum.value % 4 == 1 ? ['GPT-2','GPT2-large','GPT-XL','GPT-NEO','LLAMA2-7B'][floor(datum.value / 4)] : ''", "grid": true, "labelPadding": 7.5, "labelOverlap": false, "labelFlush": false}},
"x2": {"field": "b"},
"y": {"field": "val", "type": "quantitative", "scale": {"domain": [-0.083, 1.741], "nice": false, "zero": false}, "axis": {"title": "IFD score", "values": [0, 0.25, 0.5, 0.75, 1, 1.25, 1.5], "format": ".2f", "grid": true, "labelPadding": 8, "titlePadding": 4}}
}
}
]
}
]
}
